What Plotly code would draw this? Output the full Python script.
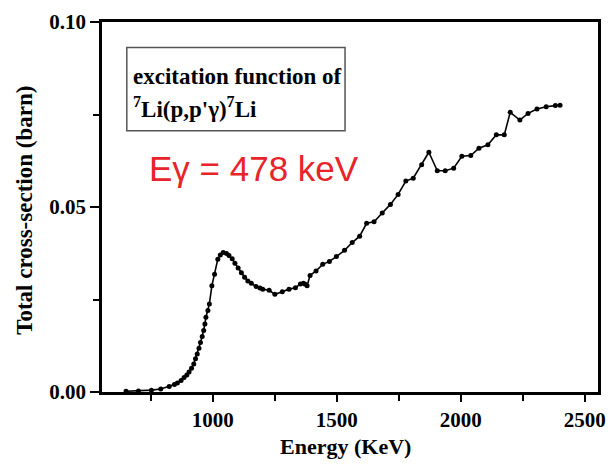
import plotly.graph_objects as go

# Measured excitation function of 7Li(p,p'γ)7Li, Eγ = 478 keV
energy_kev = [650, 700, 752, 790, 824, 845, 857, 872, 884, 895, 904, 914, 923, 930,
              937, 944, 950, 957, 963, 968, 972, 980, 986, 996, 1007, 1020, 1030,
              1042, 1055, 1065, 1078, 1089, 1102, 1115, 1128, 1141, 1155, 1174,
              1190, 1201, 1227, 1250, 1280, 1307, 1333, 1353, 1365, 1373, 1380,
              1392, 1416, 1443, 1470, 1498, 1531, 1562, 1592, 1620, 1650, 1683,
              1716, 1747, 1778, 1808, 1842, 1871, 1905, 1937, 1971, 2004, 2040,
              2073, 2109, 2143, 2175, 2199, 2238, 2271, 2307, 2344, 2381, 2400]
cross_section_barn = [0.0002, 0.0003, 0.0005, 0.0008, 0.0015, 0.0020, 0.0024, 0.0031,
                      0.0039, 0.0046, 0.0054, 0.0064, 0.0076, 0.0090, 0.0103, 0.0118,
                      0.0134, 0.0150, 0.0166, 0.0184, 0.0202, 0.0220, 0.0238, 0.0287,
                      0.0318, 0.0359, 0.0370, 0.0377, 0.0374, 0.0369, 0.0360, 0.0348,
                      0.0335, 0.0322, 0.0310, 0.0300, 0.0294, 0.0285, 0.0281, 0.0278,
                      0.0275, 0.0264, 0.0271, 0.0278, 0.0282, 0.0292, 0.0294, 0.0291,
                      0.0287, 0.0315, 0.0327, 0.0345, 0.0353, 0.0366, 0.0383, 0.0404,
                      0.0421, 0.0456, 0.0460, 0.0484, 0.0507, 0.0534, 0.0570, 0.0578,
                      0.0614, 0.0648, 0.0598, 0.0598, 0.0605, 0.0637, 0.0639, 0.0659,
                      0.0668, 0.0695, 0.0695, 0.0756, 0.0735, 0.0753, 0.0765, 0.0771,
                      0.0774, 0.0775]

x_tick_values = [1000, 1500, 2000, 2500]
x_tick_labels = ["1000", "1500", "2000", "2500"]
y_tick_values = [0.00, 0.05, 0.10]
y_tick_labels = ["0.00", "0.05", "0.10"]

serif = "Liberation Serif"

fig = go.Figure()
fig.add_trace(go.Scatter(
    x=energy_kev, y=cross_section_barn,
    mode="lines+markers",
    line=dict(color="black", width=1.6),
    marker=dict(color="black", size=5, symbol="circle"),
    showlegend=False,
))

axis_common = dict(
    showline=True, linecolor="black", linewidth=2.8, mirror=True,
    showgrid=False, zeroline=False,
    ticks="outside", tickcolor="black", tickwidth=2,
    tickfont=dict(family=serif, size=21, color="black", weight="bold"),
)

fig.update_xaxes(
    range=[553, 2553],
    tickvals=x_tick_values, ticktext=x_tick_labels, ticklen=7,
    minor=dict(dtick=250, tick0=750, ticks="outside", ticklen=6, tickwidth=2, tickcolor="black"),
    **axis_common,
)
fig.update_yaxes(
    range=[0, 0.10],
    tickvals=y_tick_values, ticktext=y_tick_labels, ticklen=9,
    minor=dict(dtick=0.025, tick0=0, ticks="outside", ticklen=6, tickwidth=2, tickcolor="black"),
    **axis_common,
)

# Caption box in the upper-left corner of the plot
fig.add_shape(type="rect", xref="paper", yref="paper",
              x0=0.050, x1=0.490, y0=0.706, y1=0.931,
              line=dict(color="#555555", width=1.5), fillcolor="rgba(0,0,0,0)")

caption_font = dict(family=serif, size=23, color="black", weight="bold")
annotations = [
    dict(text="excitation function of",
         xref="paper", yref="paper", x=0.058, y=0.852, xanchor="left", yanchor="middle",
         showarrow=False, font=caption_font),
    dict(text="<sup>7</sup>Li(p,p'γ)<sup>7</sup>Li",
         xref="paper", yref="paper", x=0.058, y=0.768, xanchor="left", yanchor="middle",
         showarrow=False, font=caption_font),
    dict(text="Eγ = 478 keV", xref="paper", yref="paper", x=0.090, y=0.605,
         xanchor="left", yanchor="middle", showarrow=False,
         font=dict(family="Liberation Sans", size=35, color="#e8232a")),
    dict(text="Energy (KeV)", xref="paper", yref="paper", x=0.49, y=-0.148,
         xanchor="center", yanchor="middle", showarrow=False,
         font=dict(family=serif, size=22, color="black", weight="bold")),
    dict(text="Total cross-section (barn)", xref="paper", yref="paper", x=-0.155, y=0.49,
         xanchor="center", yanchor="middle", textangle=-90, showarrow=False,
         font=dict(family=serif, size=23, color="black", weight="bold")),
]

fig.update_layout(
    width=616, height=467,
    margin=dict(l=102, r=10, t=20, b=75),
    paper_bgcolor="white", plot_bgcolor="white",
    annotations=annotations,
)

fig.write_html("out.html")
